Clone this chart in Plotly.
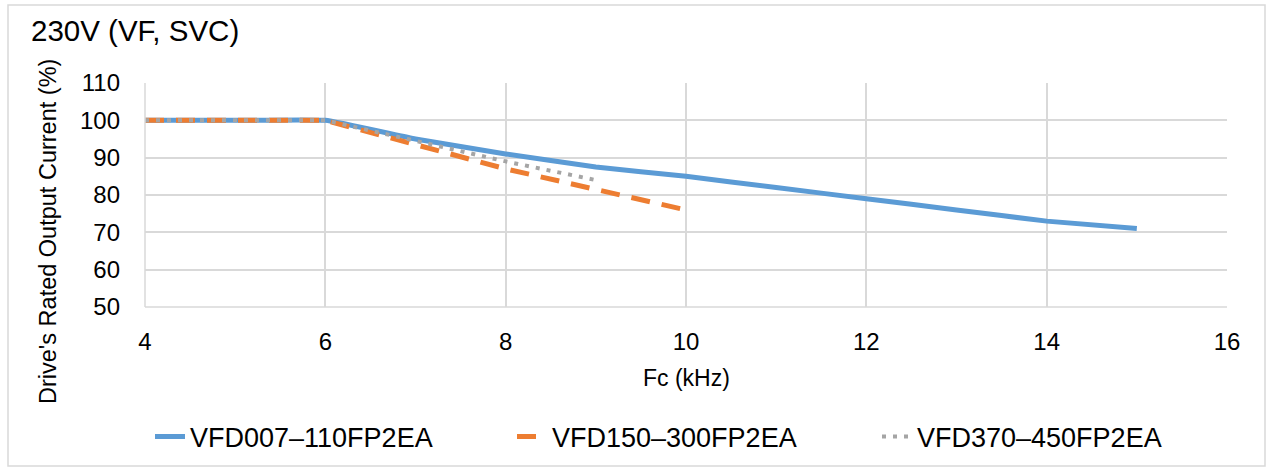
import plotly.graph_objects as go

fc_a = [4, 5, 6, 7, 8, 9, 10, 11, 12, 13, 14, 15]
cur_a = [100, 100, 100, 95, 91, 87.5, 85, 82, 79, 76, 73, 71]
fc_b = [4, 6, 7, 8, 9, 10]
cur_b = [100, 100, 93.5, 87, 81.5, 76]
fc_c = [4, 6, 7, 8, 9]
cur_c = [100, 100, 94.5, 89, 84]
names = ["VFD007\u2013110FP2EA", "VFD150\u2013300FP2EA", "VFD370\u2013450FP2EA"]
x_ticks = [4, 6, 8, 10, 12, 14, 16]
y_ticks = [50, 60, 70, 80, 90, 100, 110]

W, H = 1271, 471
L, R, T, B = 145, 44, 83, 164
pw, ph = W - L - R, H - T - B

FONT = "Liberation Sans, Arial, sans-serif"

fig = go.Figure()
fig.add_trace(go.Scatter(x=fc_a, y=cur_a, mode="lines", name=names[0], legend="legend",
                         line=dict(color="#5B9BD5", width=5, shape="spline", smoothing=0.3)))
fig.add_trace(go.Scatter(x=fc_b, y=cur_b, mode="lines", name=names[1], legend="legend2",
                         line=dict(color="#ED7D31", width=5, dash="19px,12px")))
fig.add_trace(go.Scatter(x=fc_c, y=cur_c, mode="lines", name=names[2], legend="legend3",
                         line=dict(color="#A5A5A5", width=4, dash="4px,7px")))

def px_x(p):
    return (p - L) / pw

def px_y(p):
    return (H - B - p) / ph

def leg(xpix):
    return dict(orientation="h", x=px_x(xpix), xanchor="left", y=px_y(437), yanchor="middle",
                font=dict(size=27, family=FONT), bgcolor="rgba(0,0,0,0)")

fig.update_layout(
    width=W, height=H,
    margin=dict(l=L, r=R, t=T, b=B, autoexpand=False),
    paper_bgcolor="white", plot_bgcolor="white",
    font=dict(family=FONT, color="#000000", size=24),
    showlegend=True,
    legend=leg(150),
    legend2=leg(512),
    legend3=leg(877),
    xaxis=dict(range=[4, 16], tickvals=x_ticks, showgrid=True, gridcolor="#D9D9D9", gridwidth=1.5,
               zeroline=False, showline=False, ticks="", ticklabelstandoff=18,
               tickfont=dict(size=24, family=FONT)),
    yaxis=dict(range=[50, 110], tickvals=y_ticks, showgrid=True, gridcolor="#D9D9D9", gridwidth=1.5,
               zeroline=False, showline=False, ticks="", ticklabelstandoff=24,
               tickfont=dict(size=24, family=FONT)),
    shapes=[
        dict(type="rect", xref="paper", yref="paper", x0=px_x(8), x1=px_x(1265),
             y0=px_y(466), y1=px_y(5), line=dict(color="#D9D9D9", width=1.5), fillcolor="rgba(0,0,0,0)"),
        dict(type="line", xref="paper", yref="paper", x0=0, x1=0, y0=0, y1=1,
             line=dict(color="#D9D9D9", width=1.5)),
        dict(type="line", xref="paper", yref="paper", x0=0, x1=1, y0=0, y1=0,
             line=dict(color="#D9D9D9", width=1.5)),
    ],
    annotations=[
        dict(text="230V (VF, SVC)", xref="paper", yref="paper", x=px_x(29), y=px_y(30),
             xanchor="left", yanchor="middle", showarrow=False, font=dict(size=29.5, family=FONT)),
        dict(text="Fc (kHz)", xref="paper", yref="paper", x=px_x(686), y=px_y(378),
             xanchor="center", yanchor="middle", showarrow=False, font=dict(size=23, family=FONT)),
        dict(text="Drive's Rated Output Current (%)", xref="paper", yref="paper", x=px_x(48), y=px_y(232),
             xanchor="center", yanchor="middle", textangle=-90, showarrow=False, font=dict(size=23.5, family=FONT)),
    ],
)

fig.write_html("out.html", config={"displayModeBar": False},
               post_script="document.body.style.margin='0';")
